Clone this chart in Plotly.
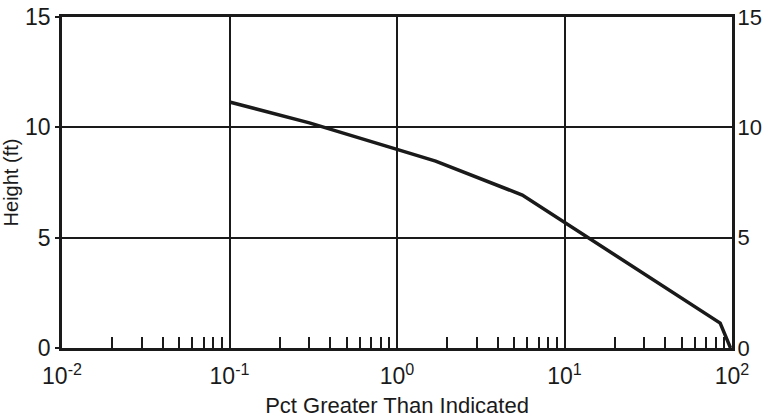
import plotly.graph_objects as go

# data
pct = [0.1, 0.3, 1.0, 1.7, 5.6, 85, 98]
height = [11.15, 10.2, 9.0, 8.47, 6.93, 1.13, 0.0]

x_tickvals = [0.01, 0.1, 1, 10, 100]
x_ticktext = ["10<sup>-2</sup>", "10<sup>-1</sup>", "10<sup>0</sup>", "10<sup>1</sup>", "10<sup>2</sup>"]
y_tickvals = [0, 5, 10, 15]
minor_vals = [m * d for d in [0.01, 0.1, 1, 10] for m in range(2, 10)]

FONT = "Liberation Sans, Arial, sans-serif"
INK = "#1a1a1a"

fig = go.Figure()
fig.add_trace(go.Scatter(x=pct, y=height, mode="lines",
                         line=dict(color=INK, width=3.5), showlegend=False))
fig.add_trace(go.Scatter(x=pct, y=height, mode="lines", yaxis="y2",
                         line=dict(color="rgba(0,0,0,0)", width=0), showlegend=False,
                         hoverinfo="skip"))

fig.update_layout(
    width=765, height=420,
    margin=dict(l=62, r=33, t=17, b=72),
    paper_bgcolor="white", plot_bgcolor="white",
    font=dict(family=FONT, color=INK, size=23),
    xaxis=dict(
        type="log", range=[-2, 2], automargin=False,
        tickmode="array", tickvals=x_tickvals, ticktext=x_ticktext,
        showgrid=True, gridcolor=INK, gridwidth=2,
        showline=True, linecolor=INK, linewidth=2.5, mirror=True,
        ticks="", zeroline=False, ticklabelstandoff=6,
        tickfont=dict(size=23),
        minor=dict(tickmode="array", tickvals=minor_vals, ticks="inside",
                   ticklen=11, tickwidth=1.5, tickcolor=INK, showgrid=False),
        title=dict(text="Pct Greater Than Indicated", font=dict(size=22), standoff=10),
    ),
    yaxis=dict(
        range=[0, 15], tickmode="array", tickvals=y_tickvals, automargin=False,
        showgrid=True, gridcolor=INK, gridwidth=2,
        showline=True, linecolor=INK, linewidth=2.5, mirror=True,
        ticks="outside", ticklen=4, tickwidth=1.5, tickcolor=INK,
        zeroline=False, tickfont=dict(size=23),
        title=dict(text="Height (ft)", font=dict(size=20), standoff=4),
    ),
    yaxis2=dict(
        range=[0, 15], tickmode="array", tickvals=y_tickvals, automargin=False,
        overlaying="y", side="right", showgrid=False, zeroline=False,
        ticks="outside", ticklen=2, tickwidth=1.5, tickcolor=INK,
        ticklabelstandoff=-2, tickfont=dict(size=22),
    ),
)

fig.write_html("out.html", config={"displayModeBar": False},
               post_script="document.body.style.margin='0';")
